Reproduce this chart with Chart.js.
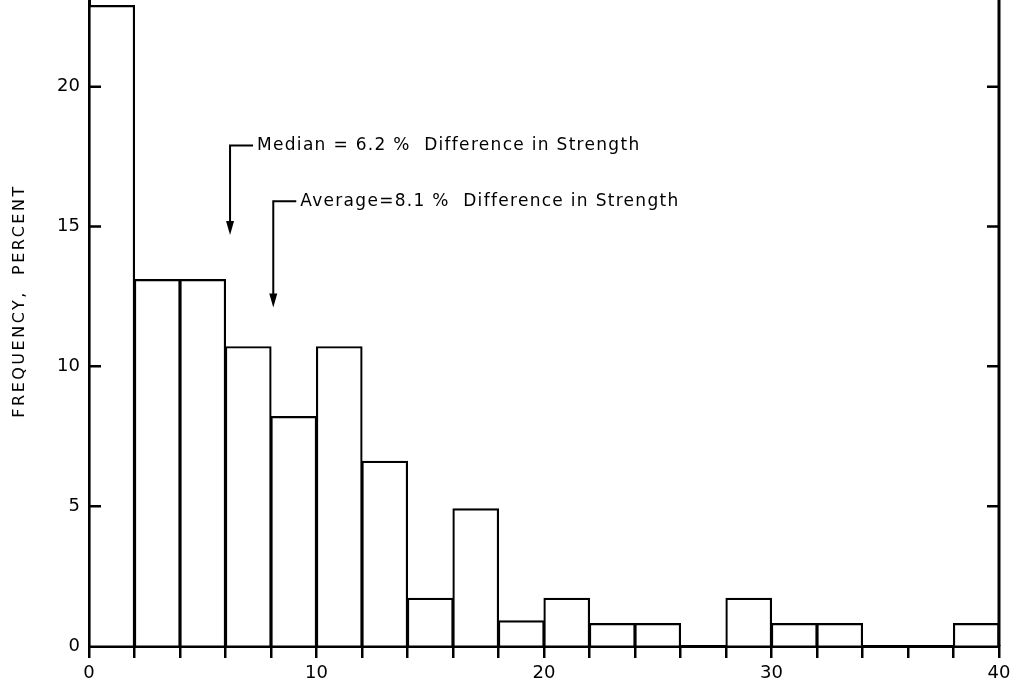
<!DOCTYPE html>
<html>
<head>
<meta charset="utf-8">
<script src="https://cdn.jsdelivr.net/npm/chart.js@4"></script>
<style>
  html, body { margin: 0; padding: 0; background: #fff; }
  #wrap { width: 1019px; height: 690px; }
</style>
</head>
<body>
<div id="wrap"><canvas id="hist"></canvas></div>
<script>
// ── Datos ──
const binMid      = [1, 3, 5, 7, 9, 11, 13, 15, 17, 19, 21, 23, 25, 27, 29, 31, 33, 35, 37, 39];
const freqPercent = [22.9, 13.1, 13.1, 10.7, 8.2, 10.7, 6.6, 1.7, 4.9, 0.9, 1.7, 0.8, 0.8, 0, 1.7, 0.8, 0.8, 0, 0, 0.8];
const yTickValues = [0, 5, 10, 15, 20];
const xTickLabels = [0, 10, 20, 30, 40];
const medianValue  = 6.2;
const averageValue = 8.1;

const FONT = 'DejaVu Sans';
const INK  = '#000';

// ── Marco derecho, marcas interiores y título vertical ──
const framePlugin = {
    id: 'frame',
    afterDraw(chart) {
        const { ctx, chartArea, scales } = chart;
        const xr = scales.x.getPixelForValue(40);
        ctx.save();
        ctx.strokeStyle = INK;
        ctx.lineWidth = 3;
        ctx.beginPath();
        ctx.moveTo(xr, chartArea.top);
        ctx.lineTo(xr, scales.y.getPixelForValue(0));
        ctx.stroke();
        ctx.lineWidth = 2.5;
        yTickValues.filter(v => v > 0).forEach(v => {
            const py = scales.y.getPixelForValue(v);
            ctx.beginPath();
            ctx.moveTo(chartArea.left, py);
            ctx.lineTo(chartArea.left + 12, py);
            ctx.moveTo(xr, py);
            ctx.lineTo(xr - 12, py);
            ctx.stroke();
        });

        // título del eje Y
        ctx.translate(20, 301);
        ctx.rotate(-Math.PI / 2);
        ctx.fillStyle = INK;
        ctx.font = `16px "${FONT}"`;
        ctx.letterSpacing = '2.5px';
        ctx.textAlign = 'center';
        ctx.textBaseline = 'middle';
        ctx.fillText('FREQUENCY,  PERCENT', 0, 0);
        ctx.restore();
    }
};

// ── Flechas de mediana y promedio ──
const notes = [
    { x: medianValue,  yTop: 17.9, yTip: 14.7, text: 'Median = 6.2 %  Difference in Strength' },
    { x: averageValue, yTop: 15.9, yTip: 12.1, text: 'Average=8.1 %  Difference in Strength' },
];

const arrowPlugin = {
    id: 'arrows',
    afterDraw(chart) {
        const { ctx, scales } = chart;
        ctx.save();
        ctx.strokeStyle = INK;
        ctx.fillStyle = INK;
        ctx.lineWidth = 2;
        ctx.font = `17px "${FONT}"`;
        ctx.letterSpacing = '1.3px';
        ctx.textBaseline = 'middle';
        notes.forEach(n => {
            const px = scales.x.getPixelForValue(n.x);
            const pTop = scales.y.getPixelForValue(n.yTop);
            const pTip = scales.y.getPixelForValue(n.yTip);
            ctx.beginPath();
            ctx.moveTo(px + 23, pTop);
            ctx.lineTo(px, pTop);
            ctx.lineTo(px, pTip - 8);
            ctx.stroke();
            ctx.beginPath();
            ctx.moveTo(px - 4, pTip - 14);
            ctx.lineTo(px + 4, pTip - 14);
            ctx.lineTo(px, pTip);
            ctx.closePath();
            ctx.fill();
            ctx.fillText(n.text, px + 27, pTop);
        });
        ctx.restore();
    }
};

new Chart(document.getElementById('hist'), {
    type: 'bar',
    data: {
        labels: binMid,
        datasets: [{
            data: binMid.map((x, i) => ({ x, y: freqPercent[i] })),
            backgroundColor: '#fff',
            borderColor: INK,
            borderWidth: 2.2,
            borderSkipped: 'start',
            inflateAmount: 0.6,
            barPercentage: 1,
            categoryPercentage: 1,
        }]
    },
    options: {
        responsive: true,
        maintainAspectRatio: false,
        animation: false,
        layout: { autoPadding: false, padding: { left: 0, right: 20, top: 0, bottom: 0 } },
        plugins: {
            legend: { display: false },
            tooltip: { enabled: false },
        },
        scales: {
            x: {
                type: 'linear',
                min: 0,
                max: 40,
                offset: false,
                grid: { offset: false, drawOnChartArea: false, drawTicks: true, tickLength: 12, color: INK, lineWidth: 2.5 },
                border: { display: true, color: INK, width: 3 },
                ticks: {
                    stepSize: 2,
                    autoSkip: false,
                    maxRotation: 0,
                    padding: 5,
                    color: INK,
                    font: { family: FONT, size: 18 },
                    callback: v => xTickLabels.includes(v) ? String(v) : '',
                },
                afterFit: axis => { axis.height = 44; axis.paddingLeft = 0; axis.paddingRight = 0; },
            },
            y: {
                min: 0,
                max: 23.1,
                grid: { drawOnChartArea: false, drawTicks: false },
                border: { display: true, color: INK, width: 3 },
                afterBuildTicks: axis => { axis.ticks = yTickValues.map(value => ({ value })); },
                ticks: {
                    padding: 9,
                    color: INK,
                    font: { family: FONT, size: 18 },
                },
                afterFit: axis => { axis.width = 89; axis.paddingTop = 0; axis.paddingBottom = 0; },
            }
        }
    },
    plugins: [framePlugin, arrowPlugin]
});
</script>
</body>
</html>
